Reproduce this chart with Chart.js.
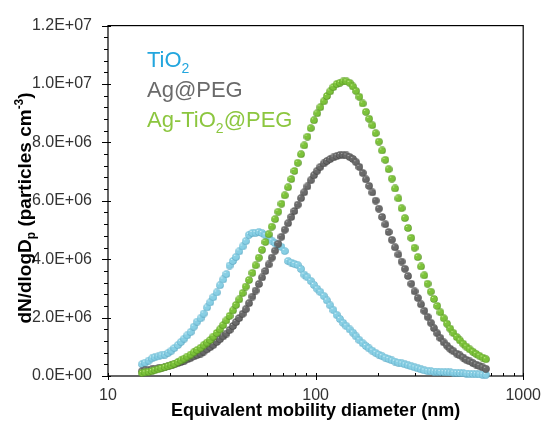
<!DOCTYPE html>
<html><head><meta charset="utf-8">
<script src="https://cdn.jsdelivr.net/npm/chart.js@4.4.0/dist/chart.umd.min.js"></script>
<style>html,body{margin:0;padding:0;background:#fff;}canvas{display:block;}</style>
</head><body>
<canvas id="c" width="551" height="431"></canvas>
<script>
// ---- data ----
const diameters = [14.6,15.1,15.7,16.3,16.8,17.5,18.1,18.8,19.5,20.2,
20.9,21.7,22.5,23.3,24.1,25.0,25.9,26.9,27.9,28.9,
30.0,31.1,32.2,33.4,34.6,35.9,37.2,38.5,40.0,41.4,
42.9,44.5,46.1,47.8,49.6,51.4,53.3,55.2,57.3,59.4,
61.5,63.8,66.1,68.5,71.0,73.7,76.4,79.1,82.0,85.1,
88.2,91.4,94.7,98.2,101.8,105.5,109.4,113.4,117.6,121.9,
126.3,131.0,135.8,140.7,145.9,151.2,156.8,162.5,168.5,174.7,
181.1,187.7,194.6,201.7,209.1,216.7,224.7,232.9,241.4,250.3,
259.5,269.0,278.8,289.0,299.6,310.6,322.0,333.8,346.0,358.7,
371.8,385.4,399.5,414.2,429.4,445.1,461.4,478.3,495.8,514.0,
532.8,552.3,572.5,593.5,615.3,637.8,661.2];

const tio2 = [4.06e5,4.60e5,5.27e5,6.02e5,6.39e5,6.69e5,7.03e5,7.34e5,7.94e5,8.69e5,
9.63e5,1.058e6,1.170e6,1.281e6,1.393e6,1.504e6,1.690e6,1.863e6,1.974e6,2.140e6,
2.346e6,2.522e6,2.701e6,2.863e6,3.107e6,3.306e6,3.492e6,3.783e6,3.941e6,4.080e6,
4.269e6,4.435e6,4.618e6,4.837e6,4.901e6,4.905e6,4.928e6,4.895e6,4.820e6,4.732e6,
4.638e6,4.550e6,4.486e6,4.418e6,4.279e6,3.938e6,3.884e6,3.837e6,3.799e6,3.664e6,
3.472e6,3.380e6,3.259e6,3.120e6,2.988e6,2.873e6,2.745e6,2.589e6,2.420e6,2.255e6,
2.096e6,1.950e6,1.819e6,1.707e6,1.596e6,1.484e6,1.356e6,1.227e6,1.122e6,1.028e6,
9.43e5,8.69e5,7.94e5,7.34e5,6.79e5,6.25e5,5.81e5,5.34e5,4.94e5,4.60e5,
4.29e5,3.95e5,3.62e5,3.28e5,2.94e5,2.57e5,2.23e5,1.89e5,1.66e5,1.59e5,
1.52e5,1.49e5,1.39e5,1.32e5,1.28e5,1.22e5,1.15e5,1.08e5,1.01e5,9.1e4,
8.5e4,7.4e4,6.8e4,6.1e4,5.4e4,4.7e4,4.1e4];

const agPeg = [1.69e5,1.89e5,2.10e5,2.26e5,2.47e5,2.67e5,2.87e5,3.11e5,3.35e5,3.65e5,
4.06e5,4.43e5,4.80e5,5.21e5,5.71e5,6.19e5,6.69e5,7.20e5,7.67e5,8.38e5,
9.16e5,9.90e5,1.068e6,1.166e6,1.261e6,1.359e6,1.454e6,1.575e6,1.714e6,1.849e6,
1.988e6,2.130e6,2.288e6,2.495e6,2.721e6,2.927e6,3.150e6,3.374e6,3.597e6,3.820e6,
4.056e6,4.293e6,4.530e6,4.770e6,5.010e6,5.233e6,5.449e6,5.652e6,5.868e6,6.091e6,
6.291e6,6.494e6,6.700e6,6.876e6,7.031e6,7.166e6,7.278e6,7.366e6,7.430e6,7.484e6,
7.528e6,7.572e6,7.572e6,7.552e6,7.501e6,7.433e6,7.322e6,7.160e6,6.957e6,6.734e6,
6.511e6,6.287e6,6.007e6,5.730e6,5.449e6,5.196e6,4.932e6,4.665e6,4.408e6,4.161e6,
3.921e6,3.671e6,3.424e6,3.161e6,2.900e6,2.677e6,2.454e6,2.234e6,2.028e6,1.825e6,
1.639e6,1.464e6,1.298e6,1.153e6,1.041e6,9.33e5,8.48e5,7.67e5,7.03e5,6.32e5,
5.54e5,5.00e5,4.43e5,3.92e5,3.45e5,2.94e5,2.47e5];

const agTio2Peg = [1.01e5,1.22e5,1.45e5,1.66e5,1.99e5,2.33e5,2.67e5,3.01e5,3.35e5,3.68e5,
4.19e5,4.77e5,5.34e5,5.98e5,6.66e5,7.34e5,8.11e5,8.89e5,9.67e5,1.055e6,
1.146e6,1.234e6,1.352e6,1.474e6,1.596e6,1.744e6,1.903e6,2.059e6,2.245e6,2.434e6,
2.623e6,2.839e6,3.063e6,3.286e6,3.532e6,3.789e6,4.053e6,4.320e6,4.587e6,4.854e6,
5.114e6,5.371e6,5.628e6,5.899e6,6.186e6,6.463e6,6.744e6,7.021e6,7.301e6,7.596e6,
7.896e6,8.197e6,8.488e6,8.758e6,8.998e6,9.205e6,9.404e6,9.590e6,9.749e6,9.894e6,
9.996e6,1.0043e7,1.0087e7,1.0090e7,1.0040e7,9.915e6,9.756e6,9.563e6,9.333e6,9.046e6,
8.809e6,8.586e6,8.316e6,8.028e6,7.724e6,7.403e6,7.082e6,6.761e6,6.423e6,6.085e6,
5.747e6,5.408e6,5.070e6,4.732e6,4.394e6,4.073e6,3.752e6,3.448e6,3.161e6,2.890e6,
2.637e6,2.400e6,2.180e6,1.978e6,1.792e6,1.623e6,1.470e6,1.335e6,1.217e6,1.105e6,
1.004e6,9.13e5,8.32e5,7.57e5,6.93e5,6.32e5,5.75e5];

const seriesNames = ['TiO2','Ag@PEG','Ag-TiO2@PEG'];
const xTickValues = [10,100,1000];
const xMinorTickValues = [20,30,40,50,60,70,80,90,200,300,400,500,600,700,800,900];
const yTickValues = [0,2e6,4e6,6e6,8e6,1e7,1.2e7];
const yTickLabels = ['0.0E+00','2.0E+06','4.0E+06','6.0E+06','8.0E+06','1.0E+07','1.2E+07'];
const yMinorStep = 4e5;
const xTitle = 'Equivalent mobility diameter (nm)';

// ---- styles ----
const FONT = "'Liberation Sans', Arial, sans-serif";
function makeBall(light, base, dark) {
  const s = 8, c = document.createElement('canvas');
  c.width = s; c.height = s;
  const g = c.getContext('2d');
  const grd = g.createRadialGradient(s*0.33, s*0.3, 0, s*0.5, s*0.5, s*0.52);
  grd.addColorStop(0, light); grd.addColorStop(0.2, base); grd.addColorStop(0.7, base); grd.addColorStop(1, dark);
  g.fillStyle = grd; g.beginPath(); g.arc(s/2, s/2, s/2 - 0.2, 0, Math.PI*2); g.fill();
  return c;
}
const blueBall = makeBall('#f4fdff', '#88cfe4', '#4a9cba');
const grayBall = makeBall('#c8c8c8', '#6a6a6a', '#383838');
const greenBall = makeBall('#e4fbb4', '#7cc23a', '#447f16');

function ds(label, vals, img, order) {
  return {label, data: diameters.map((d, i) => ({x: d, y: vals[i]})),
    pointStyle: img, pointRadius: 4, pointHoverRadius: 4, showLine: false, order, clip: false};
}

const framePlugin = {
  id: 'frame',
  beforeDatasetsDraw(chart) {
    const {ctx, chartArea: a, scales: {x, y}} = chart;
    ctx.save();
    ctx.strokeStyle = '#000'; ctx.lineWidth = 1.2;
    ctx.strokeRect(a.left, a.top, a.right - a.left, a.bottom - a.top);
    ctx.lineWidth = 1;
    ctx.beginPath();
    yTickValues.forEach(v => { const p = Math.round(y.getPixelForValue(v)) + 0.5; ctx.moveTo(a.left - 6, p); ctx.lineTo(a.left + 3, p); });
    for (let v = 0; v <= 1.2e7 + 1; v += yMinorStep) {
      const p = Math.round(y.getPixelForValue(v)) + 0.5; ctx.moveTo(a.left - 4, p); ctx.lineTo(a.left, p);
    }
    xTickValues.forEach(v => { const p = Math.round(x.getPixelForValue(v)) + 0.5; ctx.moveTo(p, a.bottom - 3); ctx.lineTo(p, a.bottom + 4); });
    xMinorTickValues.forEach(v => { const p = Math.round(x.getPixelForValue(v)) + 0.5; ctx.moveTo(p, a.bottom - 3); ctx.lineTo(p, a.bottom); });
    ctx.stroke();

    // y title with subscript / superscript
    const big = 'bold 19px ' + FONT, small = 'bold 12px ' + FONT;
    const segs = [['dN/dlogD', big, 0], ['p', small, 4], [' (particles cm', big, 0], ['-3', small, -8], [')', big, 0]];
    let total = 0;
    segs.forEach(s => { ctx.font = s[1]; total += ctx.measureText(s[0]).width; });
    ctx.translate(31, 208); ctx.rotate(-Math.PI/2);
    ctx.fillStyle = '#000'; ctx.textBaseline = 'alphabetic'; ctx.textAlign = 'left';
    let cx = -total/2;
    segs.forEach(s => { ctx.font = s[1]; ctx.fillText(s[0], cx, s[2]); cx += ctx.measureText(s[0]).width; });
    ctx.restore();

    // in-plot legend text
    ctx.save();
    ctx.textBaseline = 'alphabetic'; ctx.textAlign = 'left';
    const lines = [
      [['TiO', 22, 0], ['2', 14, 6]],
      [['Ag@PEG', 22, 0]],
      [['Ag-TiO', 22, 0], ['2', 14, 6], ['@PEG', 22, 0]]
    ];
    const colors = ['#23a6de', '#6a6a6a', '#8cc63f'];
    const baselines = [67, 97, 126.5];
    lines.forEach((ln, k) => {
      let lx = 147;
      ctx.fillStyle = colors[k];
      ln.forEach(s => { ctx.font = s[1] + 'px ' + FONT; ctx.fillText(s[0], lx, baselines[k] + s[2]); lx += ctx.measureText(s[0]).width; });
    });
    ctx.restore();
  }
};

new Chart(document.getElementById('c'), {
  type: 'scatter',
  data: {datasets: [
    ds(seriesNames[0], tio2, blueBall, 3),
    ds(seriesNames[1], agPeg, grayBall, 2),
    ds(seriesNames[2], agTio2Peg, greenBall, 1)
  ]},
  options: {
    responsive: false, animation: false, devicePixelRatio: 1,
    layout: {padding: {left: 0, top: 21, right: 19, bottom: 0}},
    plugins: {legend: {display: false}, tooltip: {enabled: false}},
    scales: {
      x: {
        type: 'logarithmic', min: 10, max: 1000,
        afterFit(s) { s.height = 55; },
        afterBuildTicks(s) { s.ticks = xTickValues.map(v => ({value: v})); },
        grid: {display: false, drawTicks: false, tickLength: 0},
        border: {display: false},
        ticks: {font: {family: FONT, size: 16}, color: '#333', padding: 10, maxRotation: 0, autoSkip: false,
          callback: v => String(v)},
        title: {display: true, text: xTitle, color: '#000',
          font: {family: FONT, size: 18, weight: 'bold', lineHeight: 1.2}, padding: {top: 0, bottom: 9}}
      },
      y: {
        min: 0, max: 1.2e7,
        afterFit(s) { s.width = 108; },
        afterBuildTicks(s) { s.ticks = yTickValues.map(v => ({value: v})); },
        grid: {display: false, drawTicks: false, tickLength: 0},
        border: {display: false},
        ticks: {font: {family: FONT, size: 16}, color: '#333', padding: 16, autoSkip: false,
          callback: (v, i) => yTickLabels[i]}
      }
    }
  },
  plugins: [framePlugin]
});
</script>
</body></html>
